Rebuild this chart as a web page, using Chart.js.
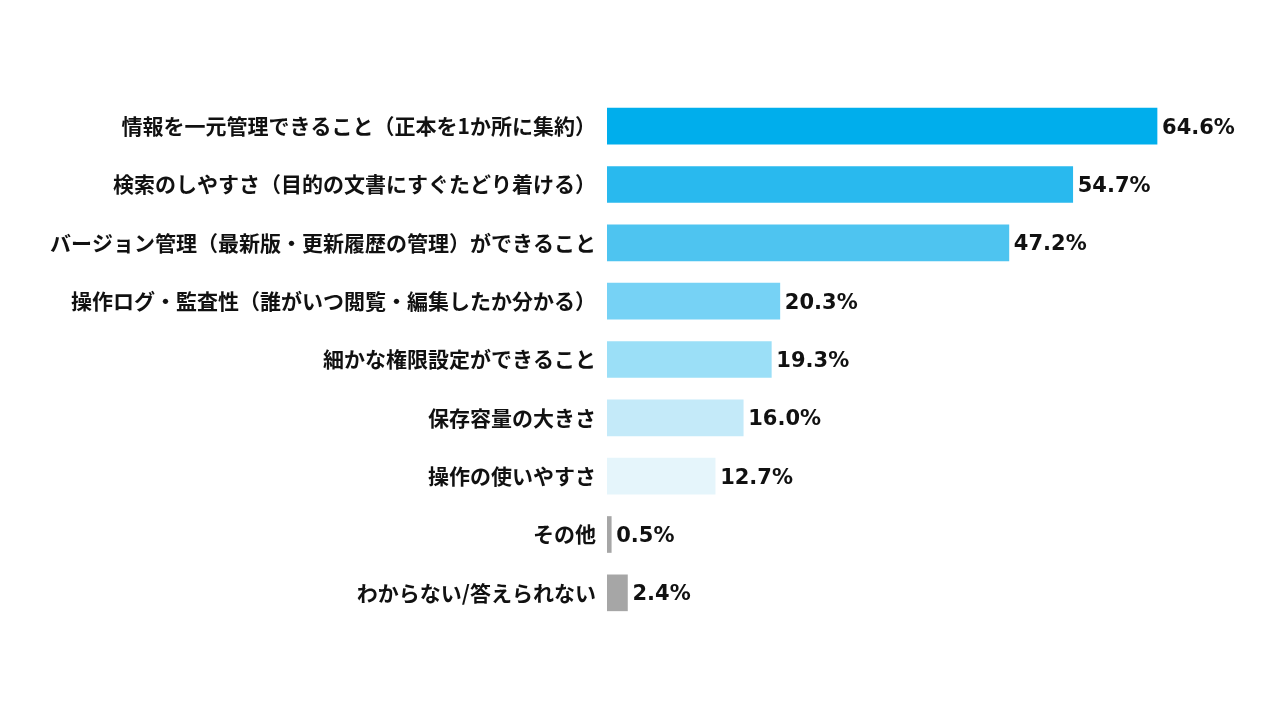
<!DOCTYPE html>
<html>
<head>
<meta charset="utf-8">
<script src="https://cdn.jsdelivr.net/npm/chart.js@4/dist/chart.umd.min.js"></script>
<style>
  html, body { margin: 0; padding: 0; background: #fff; }
  #wrap { width: 1280px; height: 720px; }
</style>
</head>
<body>
<div id="wrap"><canvas id="myChart" width="1280" height="720"></canvas></div>
<script>
// 項目
const categories = [
    '情報を一元管理できること（正本を1か所に集約）',
    '検索のしやすさ（目的の文書にすぐたどり着ける）',
    'バージョン管理（最新版・更新履歴の管理）ができること',
    '操作ログ・監査性（誰がいつ閲覧・編集したか分かる）',
    '細かな権限設定ができること',
    '保存容量の大きさ',
    '操作の使いやすさ',
    'その他',
    'わからない/答えられない'
];
// 割合（%）
const values = [64.6, 54.7, 47.2, 20.3, 19.3, 16.0, 12.7, 0.5, 2.4];
// バーの色
const barColors = ['#00AEEC', '#29B9EE', '#4EC4F0', '#76D2F5', '#9BDFF7', '#C4EAF9', '#E5F5FB', '#A6A6A6', '#A6A6A6'];

const fontJP = '"Noto Sans CJK JP", "Noto Sans", sans-serif';

// バー右端に数値を描く
const valueLabels = {
    id: 'valueLabels',
    afterDatasetsDraw(chart) {
        const ctx = chart.ctx;
        const meta = chart.getDatasetMeta(0);
        ctx.save();
        ctx.font = 'bold 21px "DejaVu Sans", sans-serif';
        ctx.fillStyle = '#111';
        ctx.textAlign = 'left';
        ctx.textBaseline = 'middle';
        meta.data.forEach((bar, i) => {
            ctx.fillText(values[i].toFixed(1) + '%', bar.x + 5, bar.y + 2);
        });
        ctx.restore();
    }
};

const ctx = document.getElementById('myChart').getContext('2d');
const myBarChart = new Chart(ctx, {
    type: 'bar',
    data: {
        labels: categories,
        datasets: [{
            data: values,
            backgroundColor: barColors,
            borderWidth: 0,
            barThickness: 36
        }]
    },
    options: {
        indexAxis: 'y',
        responsive: false,
        animation: false,
        layout: { padding: { left: 0, right: 77, top: 97, bottom: 98 } },
        plugins: {
            legend: { display: false },
            tooltip: { enabled: false }
        },
        scales: {
            x: {
                display: false,
                min: 0,
                max: 70
            },
            y: {
                grid: { display: false },
                border: { display: false },
                afterFit(scale) { scale.width = 607; },
                ticks: {
                    color: '#111',
                    padding: 3,
                    font: { family: fontJP, size: 21, weight: 'bold' }
                }
            }
        }
    },
    plugins: [valueLabels]
});
</script>
</body>
</html>
